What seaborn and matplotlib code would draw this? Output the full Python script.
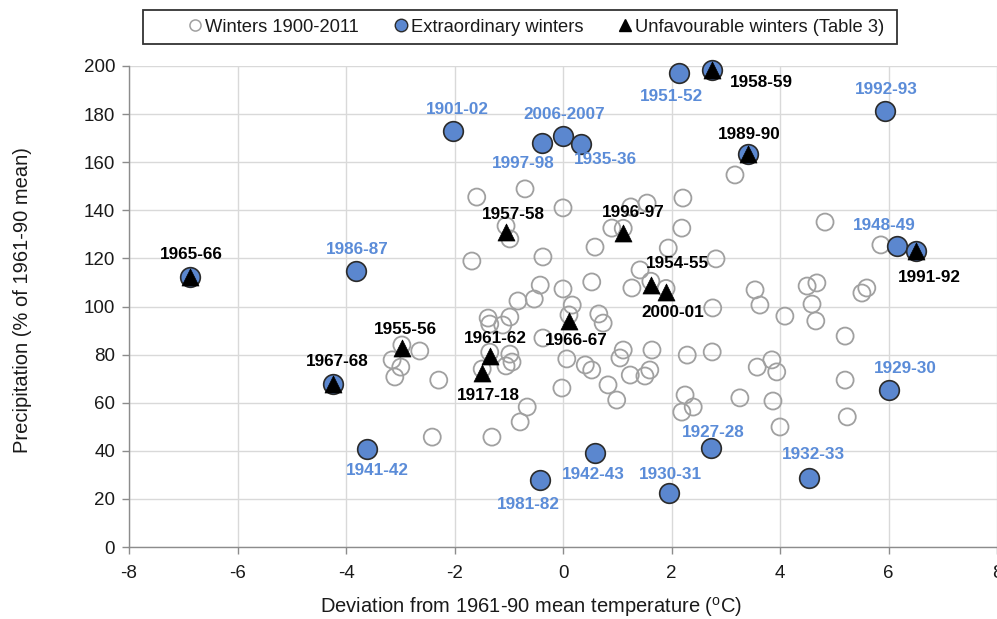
import matplotlib
matplotlib.use("Agg")
import matplotlib.pyplot as plt
from matplotlib.lines import Line2D
from matplotlib.patches import Rectangle
import seaborn as sns
import pandas as pd

# ---------------- data ----------------
winters_x = [-3.15, -2.99, -3.10, -2.64, -2.29, -2.41, -1.59, -1.68, -0.70, 0.00,
             -0.98, -0.37, -0.42, 0.00, -0.83, -0.53, 0.17, 0.53, 0.59, 0.90,
             1.25, 1.55, 2.21, 2.19, 1.94, 1.42, 1.27, 0.66, 0.74, -1.38,
             -1.35, -0.98, -1.11, -0.37, -0.98, -0.94, -1.05, -0.66, -0.79, -1.31,
             0.07, 0.41, 0.53, -0.02, 0.83, 0.99, 1.11, 1.05, 1.64, 1.24,
             1.51, 1.60, 2.29, 2.75, 2.25, 2.40, 2.19, 2.76, 3.17, 2.82,
             3.54, 3.63, 4.09, 4.50, 4.68, 4.59, 4.66, 4.83, 5.20, 5.51,
             5.60, 5.86, 3.26, 3.58, 3.85, 3.94, 3.87, 4.00, 5.20, 5.24,
             -2.97, -1.35, -1.49, -1.05, 1.11, 1.62, 1.90, 0.11]
winters_y = [77.8, 74.8, 70.7, 81.5, 69.4, 45.7, 145.5, 118.9, 148.9, 141.0,
             128.1, 120.6, 108.9, 107.3, 102.3, 103.1, 100.6, 110.2, 124.7, 132.6,
             141.4, 143.0, 145.1, 132.6, 124.3, 115.2, 107.7, 96.9, 93.1, 95.2,
             92.7, 95.6, 92.3, 86.9, 80.2, 76.9, 75.3, 58.2, 52.0, 45.7,
             78.2, 75.7, 73.6, 66.1, 67.4, 61.1, 81.9, 78.6, 81.9, 71.5,
             71.1, 73.6, 79.8, 81.1, 63.2, 58.2, 56.1, 99.4, 154.7, 119.8,
             106.9, 100.6, 96.0, 108.5, 109.8, 101.0, 94.0, 135.1, 87.7, 105.6,
             107.7, 125.6, 62.0, 74.8, 77.8, 72.8, 60.7, 49.9, 69.4, 54.1,
             84.0, 81.0, 74.0, 133.5, 132.5, 110.5, 107.5, 96.5]

extra_names = ["1965-66", "1986-87", "1967-68", "1941-42", "1901-02", "1997-98",
               "2006-2007", "1935-36", "1951-52", "1958-59", "1989-90", "1992-93",
               "1948-49", "1991-92", "1929-30", "1932-33", "1927-28", "1930-31",
               "1942-43", "1981-82"]
extra_x = [-6.88, -3.82, -4.24, -3.61, -2.03, -0.39, 0.00, 0.33, 2.14, 2.75,
           3.41, 5.94, 6.16, 6.51, 6.01, 4.53, 2.73, 1.95, 0.59, -0.42]
extra_y = [112.3, 114.8, 67.8, 40.7, 173.0, 168.0, 171.0, 167.6, 197.0, 198.3,
           163.4, 181.3, 125.2, 123.0, 65.3, 28.7, 41.2, 22.5, 39.1, 27.9]

unfav_names = ["1965-66", "1967-68", "1955-56", "1961-62", "1917-18", "1957-58",
               "1996-97", "1954-55", "2000-01", "1966-67", "1958-59", "1989-90",
               "1991-92"]
unfav_x = [-6.88, -4.24, -2.97, -1.35, -1.49, -1.05, 1.11, 1.62, 1.90, 0.11,
           2.75, 3.41, 6.51]
unfav_y = [112.3, 67.8, 82.7, 79.4, 72.3, 131.0, 130.6, 108.9, 106.0, 94.0,
           198.3, 163.4, 123.1]

x_ticks = [-8, -6, -4, -2, 0, 2, 4, 6, 8]
y_ticks = [0, 20, 40, 60, 80, 100, 120, 140, 160, 180, 200]

legend_labels = ["Winters 1900-2011", "Extraordinary winters",
                 "Unfavourable winters (Table 3)"]

# label offsets in pixels (dx right, dy up)
label_offsets = {
    "1965-66": (2, 22), "1986-87": (1, 21), "1967-68": (4, 22),
    "1941-42": (10, -21), "1901-02": (4, 21), "1997-98": (-19, -21),
    "2006-2007": (1, 21), "1935-36": (25, -16), "1951-52": (-8, -23),
    "1958-59": (49, -12), "1989-90": (1, 20), "1992-93": (1, 21),
    "1948-49": (-13, 20), "1991-92": (13, -27), "1929-30": (16, 21),
    "1932-33": (5, 23), "1927-28": (2, 15), "1930-31": (2, 18),
    "1942-43": (-2, -22), "1981-82": (-12, -25), "1955-56": (4, 19),
    "1961-62": (6, 18), "1917-18": (6, -22), "1966-67": (7, -20),
    "2000-01": (7, -20), "1954-55": (27, 22), "1957-58": (7, 17),
    "1996-97": (10, 20),
}

# ---------------- style ----------------
sns.set_theme(style="white")
plt.rcParams["font.family"] = ["Liberation Sans", "DejaVu Sans"]
plt.rcParams["mathtext.default"] = "regular"

BLUE = "#5b87cf"
LBLUE = "#5b8cd8"
GRAY = "#a0a0a0"
TXT = "#1a1a1a"

winters = pd.DataFrame({"x": winters_x, "y": winters_y})
extra = pd.DataFrame({"x": extra_x, "y": extra_y, "name": extra_names})
unfav = pd.DataFrame({"x": unfav_x, "y": unfav_y, "name": unfav_names})

fig = plt.figure(figsize=(9.97, 6.19), dpi=100)
ax = fig.add_axes([129 / 997, 72 / 619, 868 / 997, 481 / 619])

sns.scatterplot(data=winters, x="x", y="y", ax=ax, s=150, facecolor="none",
                edgecolor=GRAY, linewidth=1.3, zorder=3, clip_on=False, legend=False)
sns.scatterplot(data=extra, x="x", y="y", ax=ax, s=200, color=BLUE,
                edgecolor="#2b2b2b", linewidth=1.2, zorder=4, clip_on=False, legend=False)
sns.scatterplot(data=unfav, x="x", y="y", ax=ax, s=150, marker="^", color="black",
                edgecolor="black", linewidth=0.5, zorder=5, clip_on=False, legend=False)

for n, x, y in zip(extra_names, extra_x, extra_y):
    if n in unfav_names:
        continue
    dx, dy = label_offsets[n]
    ax.annotate(n, (x, y), xytext=(dx, dy), textcoords="offset pixels",
                ha="center", va="center", fontsize=12.3, fontweight="bold",
                color=LBLUE, zorder=6, annotation_clip=False)
for n, x, y in zip(unfav_names, unfav_x, unfav_y):
    dx, dy = label_offsets[n]
    ax.annotate(n, (x, y), xytext=(dx, dy), textcoords="offset pixels",
                ha="center", va="center", fontsize=12.3, fontweight="bold",
                color="black", zorder=6, annotation_clip=False)

ax.set_xlim(-8, 8)
ax.set_ylim(0, 200)
ax.set_xticks(x_ticks)
ax.set_yticks(y_ticks)
ax.set_xticklabels([str(t) for t in x_ticks])
ax.set_yticklabels([str(t) for t in y_ticks])
ax.grid(True, color="#d9d9d9", linewidth=1.0)
ax.set_axisbelow(True)
for side in ["top", "right"]:
    ax.spines[side].set_visible(False)
for side in ["left", "bottom"]:
    ax.spines[side].set_color("#8c8c8c")
    ax.spines[side].set_linewidth(1.0)
ax.tick_params(axis="both", which="major", length=5, width=1, color="#8c8c8c",
               labelsize=13.5, labelcolor=TXT, direction="out")
ax.tick_params(axis="x", pad=8)
ax.tick_params(axis="y", pad=5)
ax.tick_params(left=True, bottom=True)

ax.set_xlabel(r"Deviation from 1961-90 mean temperature ($^{o}$C)", fontsize=14.5,
              color=TXT)
ax.set_ylabel("Precipitation (% of 1961-90 mean)", fontsize=14.5, color=TXT)
ax.xaxis.set_label_coords((531 - 129) / 868, (547 - 607) / 481)
ax.yaxis.set_label_coords((22 - 129) / 868, (547 - 300) / 481)
ax.xaxis.label.set_va("center")
ax.yaxis.label.set_va("center")

handles = [
    Line2D([], [], linestyle="none", marker="o", markersize=8, markerfacecolor="none",
           markeredgecolor=GRAY, markeredgewidth=1.1),
    Line2D([], [], linestyle="none", marker="o", markersize=9, markerfacecolor=BLUE,
           markeredgecolor="#2b2b2b", markeredgewidth=1.0),
    Line2D([], [], linestyle="none", marker="^", markersize=9, markerfacecolor="black",
           markeredgecolor="black"),
]
leg = fig.legend(handles, legend_labels, loc="center",
                 bbox_to_anchor=(536 / 997, 1 - 27 / 619),
                 ncol=3, frameon=False, fontsize=13.2, handletextpad=0.15,
                 columnspacing=1.9, borderpad=0.0, handlelength=0.8)
for t in leg.get_texts():
    t.set_color(TXT)
fig.patches.append(Rectangle((143 / 997, 1 - 44 / 619), 754 / 997, 34 / 619,
                             transform=fig.transFigure, fill=False,
                             edgecolor="#333333", linewidth=1.3, zorder=10))

fig.savefig("out.png", dpi=100)
